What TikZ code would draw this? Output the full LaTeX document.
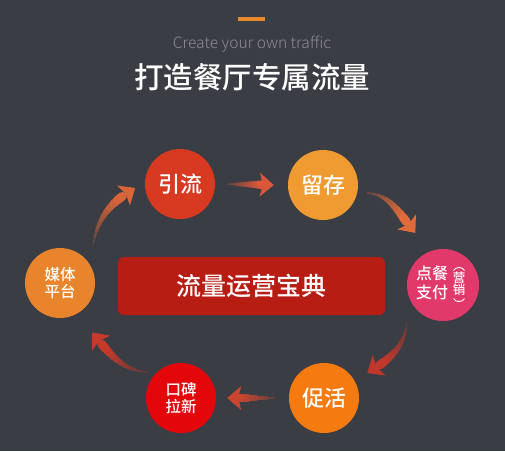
\documentclass[tikz,border=0pt]{standalone}
\usepackage{fontspec}
\setmainfont{Noto Sans CJK SC Medium}
\newfontfamily\lightfont{Noto Sans CJK SC Light}
\usetikzlibrary{calc}

\definecolor{bg}{HTML}{3A3D44}
\definecolor{barcol}{HTML}{E8892C}
\definecolor{subgray}{HTML}{8B8D92}
\definecolor{bookred}{HTML}{B81D13}
\definecolor{yincol}{HTML}{D73A20}
\definecolor{liucol}{HTML}{F09B31}
\definecolor{diancol}{HTML}{E1396A}
\definecolor{cucol}{HTML}{F57A10}
\definecolor{koucol}{HTML}{E3070C}
\definecolor{meicol}{HTML}{E8852C}
\definecolor{arrA}{HTML}{D9573A}
\definecolor{arrB}{HTML}{E06B3A}
\definecolor{arrC}{HTML}{C0382B}
\definecolor{arrD}{HTML}{C9452F}
\definecolor{arrE}{HTML}{C63A2B}
\definecolor{arrF}{HTML}{D8643A}

\tikzset{
  stage/.style={circle, inner sep=0pt, minimum size=70pt, text=white, align=center},
  bigtext/.style={font=\fontsize{22}{26}\selectfont},
  smalltext/.style={font=\fontsize{15.5}{17.5}\selectfont},
  book/.style={rectangle, rounded corners=6pt, fill=bookred, minimum width=267pt,
    minimum height=58pt, text=white, font=\fontsize{25}{28}\selectfont}
}

% tapered arrow: tail, tip, to-options, colour
\newcommand{\flowarrow}[4]{%
  \foreach \k [evaluate=\k as \t using \k*0.08] in {0,...,10}
    \path (#1) to[#3] coordinate[pos=\t] (q\k) (#2);
  \foreach \k [count=\j, evaluate=\k as \lw using 1.6+\k*0.8,
      evaluate=\k as \m using int(28+\k*8)] in {0,...,9}
    \draw[line width=\lw pt, line cap=round, #4!\m!bg] (q\k) -- (q\j);
  \coordinate (hb) at ($(#2)!14pt!(q10)$);
  \fill[#4] (#2) -- ($(hb)!12pt!90:(#2)$) -- ($(hb)!3pt!(#2)$)
    -- ($(hb)!12pt!-90:(#2)$) -- cycle;
}

\begin{document}
\begin{tikzpicture}[x=1pt,y=1pt]
\useasboundingbox (0,0) rectangle (505,-451);
\fill[bg] (0,0) rectangle (505,-451);

\draw[barcol, line width=3.3pt] (238,-19) -- (265,-19);
\node[text=subgray, font=\lightfont\fontsize{15.6}{18}\selectfont] (sub) at (252,-44) {Create your own traffic};
\node[text=white, font=\fontsize{29.5}{33}\selectfont] (title) at (252,-77) {打造餐厅专属流量};

\node[book] (book) at (251.5,-286) {流量运营宝典};

\node[stage, bigtext, fill=yincol] (yin) at (180,-184) {引流};
\node[stage, bigtext, fill=liucol] (liu) at (323,-185) {留存};
\node[stage, fill=diancol, minimum size=72pt] (dian) at (443,-285) {};
\node[stage, bigtext, fill=cucol] (cuhuo) at (324,-398) {促活};
\node[stage, smalltext, fill=koucol] (kou) at (181,-398) {口碑\\拉新};
\node[stage, smalltext, fill=meicol] (mei) at (60,-283) {媒体\\平台};

\node[text=white, align=center, font=\fontsize{16}{19}\selectfont] (dianlbl) at (432,-283) {点餐\\支付};
\node[text=white, align=center, font=\fontsize{12.5}{12}\selectfont] (yxlbl) at (459,-283.5) {营\\销};
\draw[white, line width=0.9pt] (453.5,-270.5) to[bend left=70] (464.5,-270.5);
\draw[white, line width=0.9pt] (453.5,-298.5) to[bend right=70] (464.5,-298.5);

\coordinate (t1) at ($(yin.east)+(13,0)$);
\coordinate (h1) at ($(liu.west)+(-14,0)$);
\coordinate (t2) at ($(liu)+(-10:45)$);
\coordinate (h2) at ($(dian)+(118:59)$);
\coordinate (t3) at ($(dian)+(226:52)$);
\coordinate (h3) at ($(cuhuo)+(30:50)$);
\coordinate (t4) at ($(cuhuo.west)+(-14,0)$);
\coordinate (h4) at ($(kou.east)+(11,0)$);
\coordinate (t5) at ($(kou)+(143:43)$);
\coordinate (h5) at ($(mei)+(-57:59)$);
\coordinate (t6) at ($(mei)+(50:52)$);
\coordinate (h6) at ($(yin)+(185:45)$);

\flowarrow{t1}{h1}{}{arrA}
\flowarrow{t2}{h2}{out=-5,in=131}{arrB}
\flowarrow{t3}{h3}{out=-95,in=31}{arrC}
\flowarrow{t4}{h4}{}{arrD}
\flowarrow{t5}{h5}{out=175,in=-50}{arrE}
\flowarrow{t6}{h6}{out=80,in=210}{arrF}
\end{tikzpicture}
\end{document}
